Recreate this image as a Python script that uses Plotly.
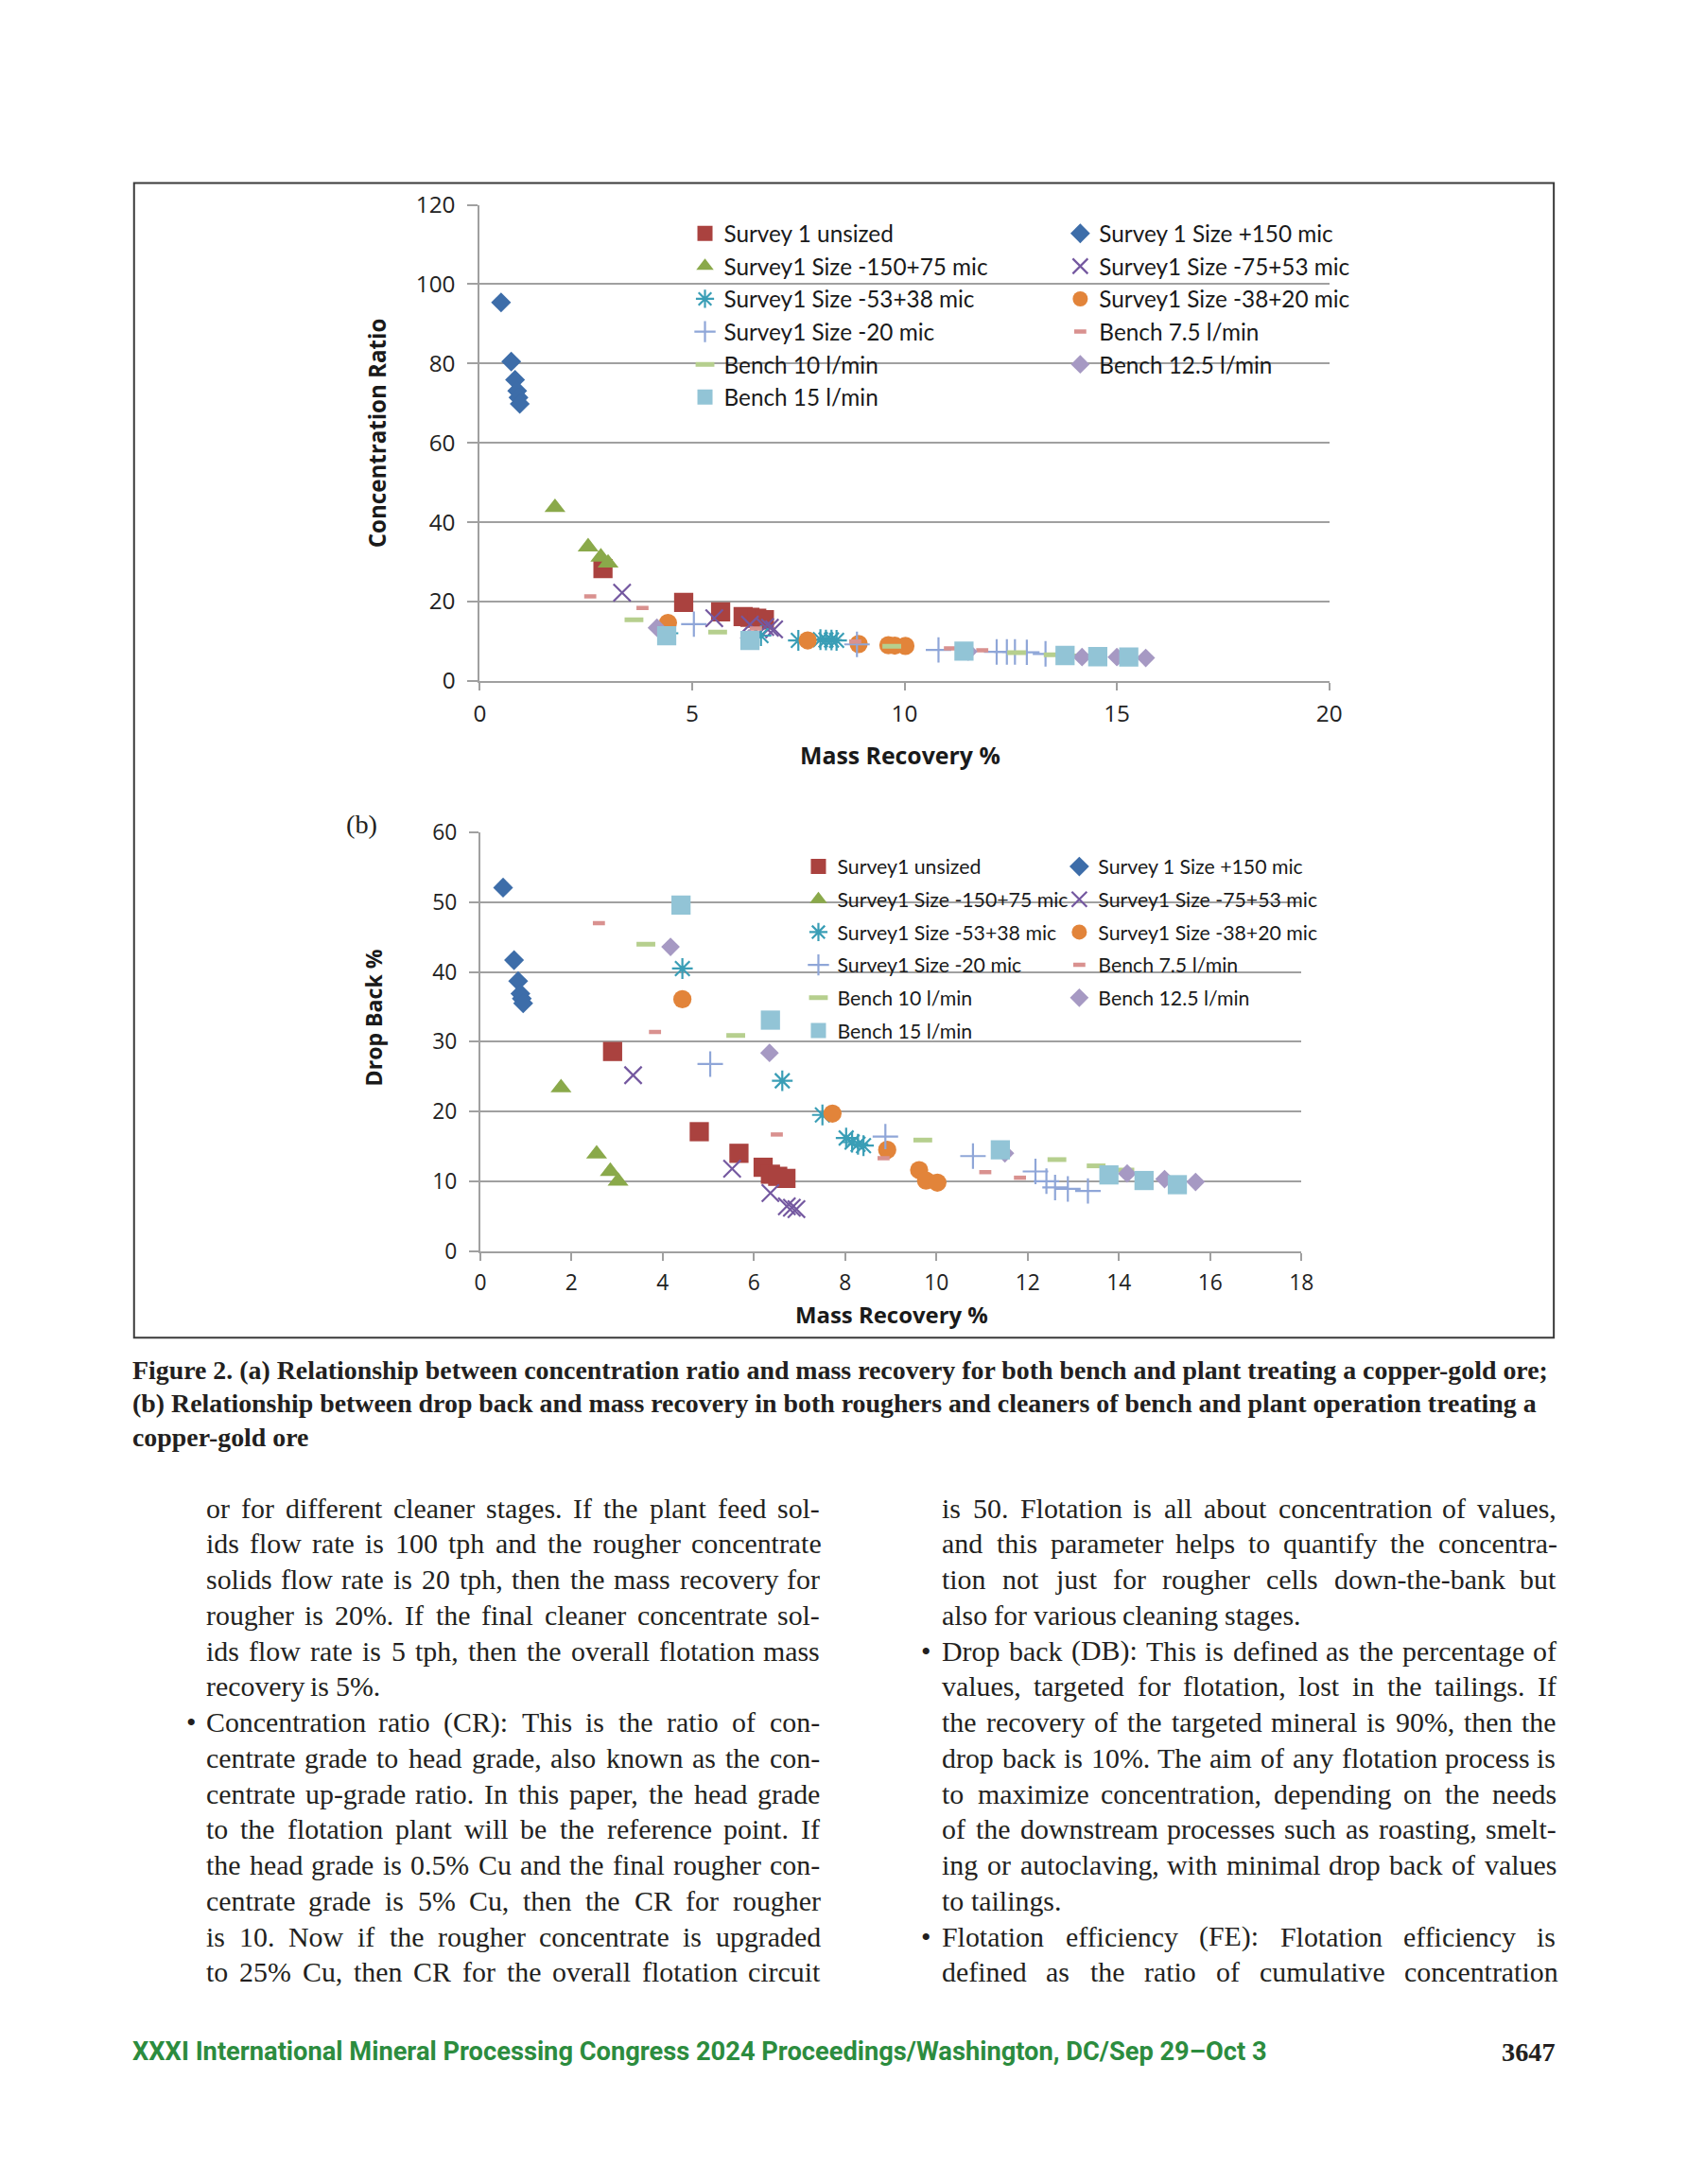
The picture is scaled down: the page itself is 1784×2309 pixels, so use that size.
import plotly.graph_objects as go

W, H = 1784, 2309

# ---------------- DATA ----------------
series_names_a = ["Survey 1 unsized", "Survey 1 Size +150 mic", "Survey1 Size -150+75 mic",
                  "Survey1 Size -75+53 mic", "Survey1 Size -53+38 mic", "Survey1 Size -38+20 mic",
                  "Survey1 Size -20 mic", "Bench 7.5 l/min", "Bench 10 l/min",
                  "Bench 12.5 l/min", "Bench 15 l/min"]
series_names_b = ["Survey1 unsized", "Survey 1 Size +150 mic", "Survey1 Size -150+75 mic",
                  "Survey1 Size -75+53 mic", "Survey1 Size -53+38 mic", "Survey1 Size -38+20 mic",
                  "Survey1 Size -20 mic", "Bench 7.5 l/min", "Bench 10 l/min",
                  "Bench 12.5 l/min", "Bench 15 l/min"]

unsized_mr = [2.9, 4.8, 5.67, 6.2, 6.36, 6.52, 6.7]
unsized_cr = [28.3, 19.8, 17.4, 16.2, 16.0, 15.8, 15.4]
unsized_db = [28.6, 17.1, 14.0, 12.0, 11.0, 10.7, 10.4]

p150_mr = [0.5, 0.74, 0.83, 0.88, 0.91, 0.94]
p150_cr = [95.4, 80.5, 75.9, 73.1, 71.4, 69.8]
p150_db = [52.1, 41.7, 38.7, 36.9, 36.2, 35.5]

m150p75_mr = [1.77, 2.55, 2.85, 3.02]
m150p75_cr = [43.7, 33.8, 31.2, 29.7]
m150p75_db = [23.4, 13.9, 11.4, 10.0]

m75p53_mr = [3.35, 5.52, 6.36, 6.72, 6.83, 6.93]
m75p53_cr = [22.2, 15.8, 14.2, 13.6, 13.4, 13.0]
m75p53_db = [25.2, 11.8, 8.3, 6.4, 6.2, 6.0]

m53p38_mr = [4.43, 6.62, 7.5, 8.02, 8.15, 8.28, 8.4]
m53p38_cr = [12.0, 11.4, 10.2, 10.4, 10.3, 10.3, 10.2]
m53p38_db = [40.5, 24.4, 19.5, 16.2, 15.6, 15.3, 15.1]

m38p20_mr = [4.43, 7.72, 8.92, 9.62, 9.77, 10.02]
m38p20_cr = [14.6, 10.2, 9.3, 9.0, 8.9, 8.8]
m38p20_db = [36.1, 19.7, 14.5, 11.6, 10.1, 9.8]

m20_mr = [5.04, 8.88, 10.8, 12.17, 12.41, 12.6, 12.88, 13.32]
m20_cr = [14.3, 9.2, 7.8, 7.3, 7.3, 7.3, 7.2, 6.8]
m20_db = [26.8, 16.4, 13.6, 11.4, 10.0, 9.1, 8.9, 8.6]

b75_mr = [2.6, 3.83, 6.5, 8.84, 11.07, 11.83]
b75_cr = [21.3, 18.4, 13.2, 9.9, 8.2, 7.7]
b75_db = [47.0, 31.4, 16.7, 13.3, 11.3, 10.5]

b10_mr = [3.63, 5.6, 9.7, 12.64, 13.5, 14.13]
b10_cr = [15.4, 12.3, 8.7, 7.1, 6.6, 6.3]
b10_db = [44.0, 30.9, 15.9, 13.1, 12.2, 11.6]

b125_mr = [4.17, 6.34, 11.5, 14.18, 15.0, 15.68]
b125_cr = [13.4, 10.8, 7.4, 6.0, 6.0, 5.8]
b125_db = [43.6, 28.4, 14.0, 11.1, 10.3, 9.9]

b15_mr = [4.4, 6.36, 11.4, 13.78, 14.55, 15.28]
b15_cr = [11.4, 10.2, 7.5, 6.4, 6.1, 6.0]
b15_db = [49.6, 33.1, 14.5, 10.9, 10.1, 9.5]

cr_ticks = [0, 20, 40, 60, 80, 100, 120]
mr_ticks_a = [0, 5, 10, 15, 20]
db_ticks = [0, 10, 20, 30, 40, 50, 60]
mr_ticks_b = [0, 2, 4, 6, 8, 10, 12, 14, 16, 18]

series_mr = [unsized_mr, p150_mr, m150p75_mr, m75p53_mr, m53p38_mr, m38p20_mr,
             m20_mr, b75_mr, b10_mr, b125_mr, b15_mr]
series_cr = [unsized_cr, p150_cr, m150p75_cr, m75p53_cr, m53p38_cr, m38p20_cr,
             m20_cr, b75_cr, b10_cr, b125_cr, b15_cr]
series_db = [unsized_db, p150_db, m150p75_db, m75p53_db, m53p38_db, m38p20_db,
             m20_db, b75_db, b10_db, b125_db, b15_db]

# ---------------- PAGE GEOMETRY ----------------
SX, SY = 1.0115, 1.0135     # compensation for capture scaling
DX, DY = 4.0, 0.0
CX, CY = 892.0, 1154.5

def X(x):
    return CX + (x - CX) * SX + DX

def Y(y):
    return CY + (y - CY) * SY + DY

def FS(v):
    return v * SY

def px(x):
    return X(x) / W

def py(y):
    return 1 - Y(y) / H

# ---------------- STYLES ----------------
styles = [
    dict(symbol="square", size=20, color="#AA423F"),
    dict(symbol="diamond", size=16, color="#3D6DA9"),
    dict(symbol="triangle-up", size=19, color="#8AA94A"),
    dict(symbol="x-thin-open", size=18, color="#7458A0", lw=2.2),
    dict(symbol="asterisk-open", size=18, color="#3A9EB6", lw=2.2),
    dict(symbol="circle", size=19, color="#E2843A"),
    dict(symbol="cross-thin-open", size=19, color="#8FA6D8", lw=2.2),
    dict(symbol="line-ew-open", size=9, color="#D9918F", lw=4.5),
    dict(symbol="line-ew-open", size=14, color="#B6CF8E", lw=5),
    dict(symbol="diamond", size=15, color="#A699C3"),
    dict(symbol="square", size=20, color="#92C4D6"),
]

fig = go.Figure()

def marker_for(st):
    mk = dict(symbol=st["symbol"], size=FS(st["size"]), color=st["color"])
    if "lw" in st:
        mk["line"] = dict(color=st["color"], width=st["lw"])
    else:
        mk["line"] = dict(width=0)
    return mk

for i in range(len(series_names_a)):
    fig.add_trace(go.Scatter(
        x=series_mr[i], y=series_cr[i], mode="markers", name=series_names_a[i],
        marker=marker_for(styles[i]), xaxis="x", yaxis="y", legendgroup="a%d" % i,
        legend="legend" if i % 2 == 0 else "legend2"))
for i in range(len(series_names_b)):
    fig.add_trace(go.Scatter(
        x=series_mr[i], y=series_db[i], mode="markers", name=series_names_b[i],
        marker=marker_for(styles[i]), xaxis="x2", yaxis="y2", legendgroup="b%d" % i,
        legend="legend3" if i % 2 == 0 else "legend4"))

GRID = "#A0A0A0"
tickfontA = dict(family="Open Sans, sans-serif", size=FS(24), color="#222")
tickfontB = dict(family="Open Sans, sans-serif", size=FS(22.5), color="#222")
ax_common = dict(showline=True, linecolor=GRID, linewidth=2, ticks="outside",
                 tickcolor=GRID, tickwidth=2, zeroline=False, fixedrange=True)

# Plot areas (pixel positions on the reference page)
A_L, A_R, A_T, A_B = 506.8, 1405.4, 215.1, 718.9
B_L, B_R, B_T, B_B = 507.3, 1376.0, 879.4, 1322.2

fig.update_layout(
    width=W, height=H, margin=dict(l=0, r=0, t=0, b=0),
    paper_bgcolor="white", plot_bgcolor="rgba(0,0,0,0)",
    showlegend=True,
    xaxis=dict(domain=[px(A_L), px(A_R)], range=[0, 20], tickvals=mr_ticks_a,
               showgrid=False, ticklen=8, ticklabelstandoff=4, anchor="y",
               tickfont=tickfontA, **ax_common),
    yaxis=dict(domain=[py(A_B), py(A_T)], range=[0, 120], tickvals=cr_ticks,
               showgrid=True, gridcolor=GRID, gridwidth=2, ticklen=11,
               ticklabelstandoff=8, anchor="x", tickfont=tickfontA, **ax_common),
    xaxis2=dict(domain=[px(B_L), px(B_R)], range=[0, 18], tickvals=mr_ticks_b,
                showgrid=False, ticklen=8, ticklabelstandoff=4, anchor="y2",
                tickfont=tickfontB, **ax_common),
    yaxis2=dict(domain=[py(B_B), py(B_T)], range=[0, 60], tickvals=db_ticks,
                showgrid=True, gridcolor=GRID, gridwidth=2, ticklen=10,
                ticklabelstandoff=8, anchor="x2", tickfont=tickfontB, **ax_common),
)

leg_common = dict(bgcolor="rgba(0,0,0,0)", borderwidth=0, xanchor="left", yanchor="top",
                  itemsizing="trace", traceorder="grouped", itemclick=False,
                  itemdoubleclick=False)
fontA = dict(family="Lato, sans-serif", size=FS(24), color="#1a1a1a")
fontB = dict(family="Lato, sans-serif", size=FS(21), color="#1a1a1a")
fig.update_layout(
    legend=dict(x=px(725), y=py(223), font=fontA, tracegroupgap=0, **leg_common),
    legend2=dict(x=px(1122), y=py(223), font=fontA, tracegroupgap=0, **leg_common),
    legend3=dict(x=px(845), y=py(895), font=fontB, tracegroupgap=4, **leg_common),
    legend4=dict(x=px(1121), y=py(895), font=fontB, tracegroupgap=4, **leg_common),
)

ann = []
def add_text(x, y, text, font, xanchor="center", yanchor="middle", angle=0):
    ann.append(dict(x=px(x), y=py(y), xref="paper", yref="paper", text=text,
                    showarrow=False, font=font, xanchor=xanchor, yanchor=yanchor,
                    textangle=angle, borderpad=0, borderwidth=0))

def sans(size, color="#1a1a1a"):
    return dict(family="Open Sans, sans-serif", size=FS(size), color=color)

add_text(951.7, 797, "<b>Mass Recovery %</b>", sans(24.5))
add_text(397.8, 456.7, "<b>Concentration Ratio</b>", sans(23.8), angle=-90)
add_text(942.8, 1389, "<b>Mass Recovery %</b>", sans(23.6))
add_text(394.8, 1075.4, "<b>Drop Back %</b>", sans(22.8), angle=-90)
add_text(381.6, 870.6, "(b)", dict(family="Liberation Serif, serif", size=FS(28), color="#231F20"))

# ---------------- PAGE TEXT ----------------
REG = {' ': 250, '!': 333, '%': 833, "'": 180, '(': 333, ')': 333, ',': 250, '-': 333,
       '.': 250, '/': 278, ':': 278, ';': 278, '?': 444, '•': 350,
       'A': 722, 'B': 667, 'C': 667, 'D': 722, 'E': 611, 'F': 556, 'G': 722, 'H': 722,
       'I': 333, 'J': 389, 'K': 722, 'L': 611, 'M': 889, 'N': 722, 'O': 722, 'P': 556,
       'Q': 722, 'R': 667, 'S': 556, 'T': 611, 'U': 722, 'V': 722, 'W': 944, 'X': 722,
       'Y': 722, 'Z': 611, 'a': 444, 'b': 500, 'c': 444, 'd': 500, 'e': 444, 'f': 333,
       'g': 500, 'h': 500, 'i': 278, 'j': 278, 'k': 500, 'l': 278, 'm': 778, 'n': 500,
       'o': 500, 'p': 500, 'q': 500, 'r': 333, 's': 389, 't': 278, 'u': 500, 'v': 500,
       'w': 722, 'x': 500, 'y': 500, 'z': 444}
for d in "0123456789":
    REG[d] = 500

def em(s, table):
    return sum(table.get(c, 500) for c in s) / 1000.0

caption = [
    "Figure 2. (a) Relationship between concentration ratio and mass recovery for both bench and plant treating a copper-gold ore;",
    "(b) Relationship between drop back and mass recovery in both roughers and cleaners of bench and plant operation treating a",
    "copper-gold ore",
]
for k, line in enumerate(caption):
    add_text(139, 1448 + 35.5 * k, "<b>%s</b>" % line,
             dict(family="Liberation Serif, serif", size=FS(27.5), color="#231F20"),
             xanchor="left")

left_col = [
    ("or for different cleaner stages. If the plant feed sol-", False, True),
    ("ids flow rate is 100 tph and the rougher concentrate", False, True),
    ("solids flow rate is 20 tph, then the mass recovery for", False, True),
    ("rougher is 20%. If the final cleaner concentrate sol-", False, True),
    ("ids flow rate is 5 tph, then the overall flotation mass", False, True),
    ("recovery is 5%.", False, False),
    ("Concentration ratio (CR): This is the ratio of con-", True, True),
    ("centrate grade to head grade, also known as the con-", False, True),
    ("centrate up-grade ratio. In this paper, the head grade", False, True),
    ("to the flotation plant will be the reference point. If", False, True),
    ("the head grade is 0.5% Cu and the final rougher con-", False, True),
    ("centrate grade is 5% Cu, then the CR for rougher", False, True),
    ("is 10. Now if the rougher concentrate is upgraded", False, True),
    ("to 25% Cu, then CR for the overall flotation circuit", False, True),
]
right_col = [
    ("is 50. Flotation is all about concentration of values,", False, True),
    ("and this parameter helps to quantify the concentra-", False, True),
    ("tion not just for rougher cells down-the-bank but", False, True),
    ("also for various cleaning stages.", False, False),
    ("Drop back (DB): This is defined as the percentage of", True, True),
    ("values, targeted for flotation, lost in the tailings. If", False, True),
    ("the recovery of the targeted mineral is 90%, then the", False, True),
    ("drop back is 10%. The aim of any flotation process is", False, True),
    ("to maximize concentration, depending on the needs", False, True),
    ("of the downstream processes such as roasting, smelt-", False, True),
    ("ing or autoclaving, with minimal drop back of values", False, True),
    ("to tailings.", False, False),
    ("Flotation efficiency (FE): Flotation efficiency is", True, True),
    ("defined as the ratio of cumulative concentration", False, True),
]

BODY = 29.5
body_font = dict(family="Liberation Serif, serif", size=FS(BODY), color="#231F20")
line_y0, line_dy = 1594, 37.8

def place_column(lines, x0, x1, xbullet):
    width = x1 - x0
    for k, (line, bullet, justify) in enumerate(lines):
        y = line_y0 + line_dy * k
        if bullet:
            add_text(xbullet, y, "•", body_font, xanchor="left")
        words = line.split(" ")
        ws = [em(w, REG) * BODY for w in words]
        gap = REG[' '] / 1000.0 * BODY
        if justify and len(words) > 1:
            gap = (width - sum(ws)) / (len(words) - 1)
        x = x0
        for w, wd in zip(words, ws):
            add_text(x, y, w, body_font, xanchor="left")
            x += wd + gap

place_column(left_col, 217, 866, 196)
place_column(right_col, 996, 1645, 974)

add_text(139, 2170, "<b>XXXI International Mineral Processing Congress 2024 Proceedings/Washington, DC/Sep 29\u2013Oct 3</b>",
         dict(family="Liberation Sans Narrow, Roboto, sans-serif", size=FS(26.9), color="#2C8C3E"),
         xanchor="left")
add_text(1645, 2170, "<b>3647</b>", dict(family="Liberation Serif, serif", size=FS(28), color="#231F20"),
         xanchor="right")

fig.update_layout(annotations=ann)
fig.add_shape(type="rect", xref="paper", yref="paper", x0=px(141), x1=px(1643),
              y0=py(1414), y1=py(192), line=dict(color="#3a3a3a", width=2))

fig.write_html("out.html", config={"displayModeBar": False, "responsive": False},
               post_script="document.body.style.margin='0px';document.body.style.padding='0px';"
                           "document.documentElement.style.overflow='hidden';")
